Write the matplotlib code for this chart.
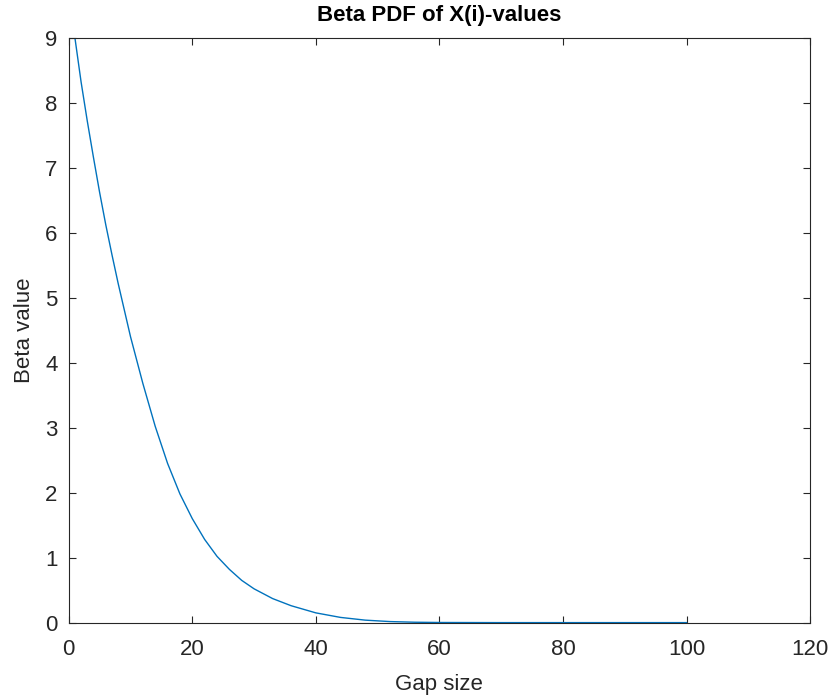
import matplotlib
matplotlib.use("Agg")
import matplotlib.pyplot as plt

# values
gap_size = [1, 2, 3, 4, 5, 6, 7, 8, 10, 12, 14, 16, 18, 20, 22, 24, 26, 28,
            30, 33, 36, 40, 44, 48, 52, 56, 60, 70, 80, 90, 100]
beta_value = [9.0, 8.32, 7.72, 7.16, 6.62, 6.12, 5.66, 5.22, 4.4, 3.68,
              3.02, 2.45, 1.98, 1.6, 1.28, 1.02, 0.82, 0.65, 0.52, 0.37,
              0.26, 0.15, 0.08, 0.038, 0.016, 0.006, 0.002, 0.0, 0.0, 0.0,
              0.0]

x_ticks = [0, 20, 40, 60, 80, 100, 120]
y_ticks = [0, 1, 2, 3, 4, 5, 6, 7, 8, 9]

plt.rcParams['font.family'] = ['Liberation Sans', 'DejaVu Sans']
axis_color = '#262626'

fig = plt.figure(figsize=(8.33, 6.98), dpi=100)
ax = fig.add_axes([0.0825, 0.108, 0.89, 0.838])

ax.plot(gap_size, beta_value, color='#0072BD', linewidth=1.0)

ax.set_xlim(0, 120)
ax.set_ylim(0, 9)
ax.set_xticks(x_ticks)
ax.set_yticks(y_ticks)
ax.tick_params(direction='in', length=5, width=0.8, top=True, right=True,
               labelsize=16, colors=axis_color)
ax.tick_params(axis='x', pad=12)
ax.tick_params(axis='y', pad=8)
for side in ax.spines.values():
    side.set_color(axis_color)
    side.set_linewidth(0.8)

ax.set_xlabel("Gap size", fontsize=16, color=axis_color, labelpad=10)
ax.set_ylabel("Beta value", fontsize=16, color=axis_color, labelpad=7)
ax.set_title("Beta PDF of X(i)-values", fontsize=16, fontweight='bold',
             color='black', pad=12)

fig.savefig("out.png", dpi=100)
